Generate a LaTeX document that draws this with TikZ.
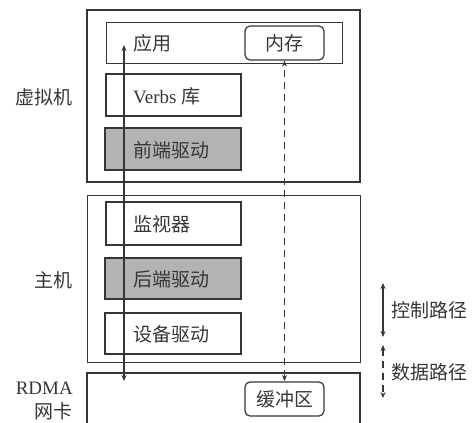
\documentclass[tikz,border=0pt]{standalone}
\usepackage{fontspec}
\setmainfont{Liberation Serif}
\newfontfamily\cjk{Noto Sans CJK SC}
\usetikzlibrary{arrows.meta}
\definecolor{ln}{HTML}{363636}
\definecolor{gfill}{HTML}{B3B3B3}
\tikzset{
  box/.style={draw=ln, line width=1.2pt, rectangle, inner sep=0pt},
  bigbox/.style={draw=ln, rectangle, inner sep=0pt},
  rbox/.style={draw=ln, line width=1.2pt, rounded corners=5pt, rectangle, inner sep=0pt},
  txt/.style={text=ln, inner sep=0pt, font=\fontsize{19}{22}\selectfont},
  bitip/.style={{Stealth[length=6pt,width=5pt]}-{Stealth[length=6pt,width=5pt]}},
  path1/.style={draw=ln, line width=1.2pt},
  path2/.style={draw=ln, line width=1.8pt, dash pattern=on 7pt off 5pt},
}
\begin{document}
\begin{tikzpicture}[x=1pt,y=-1pt]
\useasboundingbox (0,0) rectangle (474,423);
\clip (0,0) rectangle (474,423);
% virtual machine
\node[bigbox, line width=2pt, minimum width=273pt, minimum height=172pt] (vm) at (223.5,96) {};
\node[box, line width=1pt, minimum width=236pt, minimum height=41pt] (app) at (224,42.5) {};
\node[rbox, minimum width=79pt, minimum height=34pt] (mem) at (284.5,43) {};
\node[txt] (memt) at (mem.center) {\cjk 内存};
\node[txt, anchor=west] (appt) at (133,43) {\cjk 应用};
\node[box, minimum width=135pt, minimum height=42pt] (verbs) at (173.5,95) {};
\node[txt, anchor=west] (verbst) at (133,96) {Verbs {\cjk 库}};
\node[box, fill=gfill, minimum width=136pt, minimum height=42pt] (fe) at (173,149) {};
\node[txt, anchor=west] (fet) at (133,150) {\cjk 前端驱动};
% host
\node[bigbox, line width=1pt, minimum width=273pt, minimum height=167pt] (host) at (223.5,278.5) {};
\node[box, minimum width=135pt, minimum height=43pt] (mon) at (173.5,223.5) {};
\node[txt, anchor=west] (mont) at (133,224) {\cjk 监视器};
\node[box, fill=gfill, minimum width=136pt, minimum height=41pt] (be) at (173,278.5) {};
\node[txt, anchor=west] (bet) at (133,279) {\cjk 后端驱动};
\node[box, minimum width=136pt, minimum height=41pt] (dev) at (173,333.5) {};
\node[txt, anchor=west] (devt) at (133,334) {\cjk 设备驱动};
% RDMA NIC
\node[bigbox, line width=2pt, minimum width=273pt, minimum height=80pt] (nic) at (223.5,413) {};
\node[rbox, minimum width=79pt, minimum height=34pt] (buf) at (284.5,399) {};
\node[txt] (buft) at (buf.center) {\cjk 缓冲区};
% side labels
\node[txt, anchor=east] (lvm) at (73,97) {\cjk 虚拟机};
\node[txt, anchor=east] (lhost) at (73,280) {\cjk 主机};
\node[txt, anchor=east] (lrdma) at (73,388) {RDMA};
\node[txt, anchor=east] (lnic) at (73,411) {\cjk 网卡};
% paths
\coordinate (ctop) at (124,45);
\coordinate (cbot) at (124,381);
\draw[path1, bitip] (ctop) -- (cbot);
\coordinate (dbot) at (284.5,381);
\draw[path2, bitip] (dbot) -- (mem.south);
% legend
\coordinate (l1a) at (383,283);
\coordinate (l1b) at (383,337);
\draw[path1, bitip] (l1a) -- (l1b);
\coordinate (l2a) at (383,345);
\coordinate (l2b) at (383,398);
\draw[path2, bitip] (l2a) -- (l2b);
\node[txt, anchor=west] (leg1) at (391,310) {\cjk 控制路径};
\node[txt, anchor=west] (leg2) at (391,372) {\cjk 数据路径};
\end{tikzpicture}
\end{document}
